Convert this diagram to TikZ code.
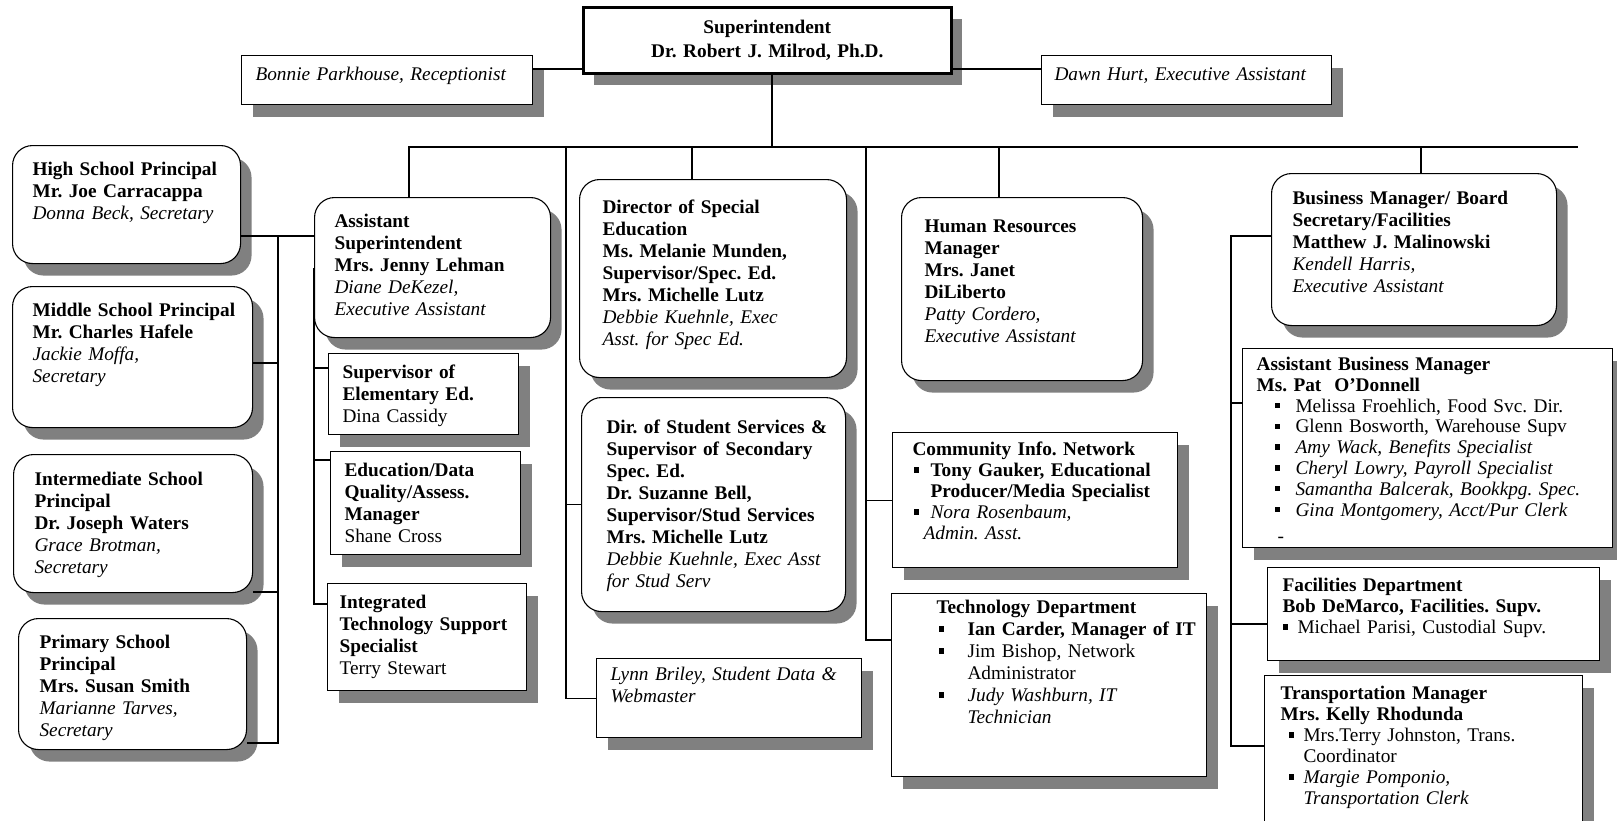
\documentclass[tikz,border=0pt]{standalone}
\usepackage{fontspec}
\setmainfont{Liberation Serif}
\usetikzlibrary{shadows}
\frenchspacing
\newcommand{\orgfont}{\fontsize{19.3pt}{22pt}\selectfont}
\newcommand{\tightfont}{\fontsize{19.3pt}{21pt}\selectfont}
\newcommand{\sqbul}{\rule[.2em]{.28em}{.28em}}
\newcommand{\itm}[2]{\hspace*{#1}\makebox[#2][l]{\sqbul}}
\tikzset{card/.style={draw,line width=1.1pt,fill=white,anchor=north west,align=left,inner xsep=0pt,inner ysep=0pt,font=\orgfont,drop shadow={shadow xshift=11pt,shadow yshift=-12pt,fill=black!50,opacity=1}},rbox/.style={card,rounded corners=20pt},sbox/.style={card},lpad/.style={execute at begin node={\leftskip=#1\relax}},link/.style={line width=1.1pt}}

\begin{document}
\begin{tikzpicture}[x=1pt,y=-1pt]
\useasboundingbox (0,0) rectangle (1617,820);
\clip (0,0) rectangle (1617,820);
\node[sbox,line width=2.6pt,align=center,text width=368pt,text height=26pt,text depth=40pt,font=\fontsize{19.3pt}{24pt}\selectfont\bfseries] (sup) at (582,6) {Superintendent\\Dr. Robert J. Milrod, Ph.D.};
\node[sbox,text width=291pt,text height=25pt,text depth=24pt,lpad=14pt] (recep) at (241,55) {\textit{Bonnie Parkhouse, Receptionist}};
\node[sbox,text width=290pt,text height=25pt,text depth=24pt,lpad=13pt] (execasst) at (1041,55) {\textit{Dawn Hurt, Executive Assistant}};
\node[rbox,text width=228pt,text height=30pt,text depth=88pt,lpad=20pt] (hs) at (12,145) {\textbf{High School Principal}\\\textbf{Mr. Joe Carracappa}\\\textit{Donna Beck, Secretary}};
\node[rbox,text width=240pt,text height=30pt,text depth=111pt,lpad=20pt] (ms) at (12,286) {\textbf{Middle School Principal}\\\textbf{Mr. Charles Hafele}\\\textit{Jackie Moffa,}\\\textit{Secretary}};
\node[rbox,text width=239pt,text height=31pt,text depth=107pt,lpad=21pt] (is) at (13,454) {\textbf{Intermediate School}\\\textbf{Principal}\\\textbf{Dr. Joseph Waters}\\\textit{Grace Brotman,}\\\textit{Secretary}};
\node[rbox,text width=228pt,text height=30pt,text depth=101pt,lpad=21pt] (ps) at (18,618) {\textbf{Primary School}\\\textbf{Principal}\\\textbf{Mrs. Susan Smith}\\\textit{Marianne Tarves,}\\\textit{Secretary}};
\node[rbox,text width=236pt,text height=30pt,text depth=110pt,lpad=20pt] (asup) at (314,197) {\textbf{Assistant}\\\textbf{Superintendent}\\\textbf{Mrs. Jenny Lehman}\\\textit{Diane DeKezel,}\\\textit{Executive Assistant}};
\node[sbox,text width=190pt,text height=25pt,text depth=56pt,lpad=14pt] (selem) at (328,353) {\textbf{Supervisor of}\\\textbf{Elementary Ed.}\\Dina Cassidy};
\node[sbox,text width=190pt,text height=25pt,text depth=78pt,lpad=14pt] (edudata) at (330,451) {\textbf{Education/Data}\\\textbf{Quality/Assess.}\\\textbf{Manager}\\Shane Cross};
\node[sbox,text width=199pt,text height=25pt,text depth=82pt,lpad=12pt] (its) at (327,583) {\textbf{Integrated}\\\textbf{Technology Support}\\\textbf{Specialist}\\Terry Stewart};
\node[rbox,text width=267pt,text height=34pt,text depth=164pt,lpad=23pt] (spedir) at (579,179) {\textbf{Director of Special}\\\textbf{Education}\\\textbf{Ms. Melanie Munden,}\\\textbf{Supervisor/Spec. Ed.}\\\textbf{Mrs. Michelle Lutz}\\\textit{Debbie Kuehnle, Exec}\\\textit{Asst. for Spec Ed.}};
\node[rbox,text width=264pt,text height=36pt,text depth=178pt,lpad=25pt] (studsvc) at (581,397) {\textbf{Dir. of Student Services \&}\\\textbf{Supervisor of Secondary}\\\textbf{Spec. Ed.}\\\textbf{Dr. Suzanne Bell,}\\\textbf{Supervisor/Stud Services}\\\textbf{Mrs. Michelle Lutz}\\\textit{Debbie Kuehnle, Exec Asst}\\\textit{for Stud Serv}};
\node[sbox,text width=265pt,text height=22pt,text depth=57pt,lpad=14pt] (webmaster) at (596,658) {\textit{Lynn Briley, Student Data \&}\\\textit{Webmaster}};
\node[rbox,text width=241pt,text height=35pt,text depth=148pt,lpad=23pt] (hr) at (901,197) {\textbf{Human Resources}\\\textbf{Manager}\\\textbf{Mrs. Janet}\\\textbf{DiLiberto}\\\textit{Patty Cordero,}\\\textit{Executive Assistant}};
\node[sbox,text width=285pt,text height=23pt,text depth=112pt,lpad=20pt,font=\tightfont] (cin) at (892,432) {\textbf{Community Info. Network}\\\itm{1pt}{17pt}\textbf{Tony Gauker, Educational}\\\hspace*{18pt}\textbf{Producer/Media Specialist}\\\itm{1pt}{17pt}\textit{Nora Rosenbaum,}\\\hspace*{11pt}\textit{Admin. Asst.}};
\node[sbox,text width=315pt,text height=20pt,text depth=163pt,lpad=45pt] (tech) at (891,593) {\textbf{Technology Department}\\\itm{2pt}{29pt}\textbf{Ian Carder, Manager of IT}\\\itm{2pt}{29pt}Jim Bishop, Network\\\hspace*{31pt}Administrator\\\itm{2pt}{29pt}\textit{Judy Washburn, IT}\\\hspace*{31pt}\textit{Technician}};
\node[rbox,text width=285pt,text height=31pt,text depth=121pt,lpad=21pt] (busmgr) at (1271,173) {\textbf{Business Manager/ Board}\\\textbf{Secretary/Facilities}\\\textbf{Matthew J. Malinowski}\\\textit{Kendell Harris,}\\\textit{Executive Assistant}};
\node[sbox,text width=370pt,text height=22pt,text depth=177pt,lpad=14pt,font=\fontsize{19.3pt}{20.8pt}\selectfont] (asstbus) at (1242,348) {\textbf{Assistant Business Manager}\\\textbf{Ms. Pat\ \ O'Donnell}\\\itm{18pt}{21pt}Melissa Froehlich, Food Svc. Dir.\\\itm{18pt}{21pt}Glenn Bosworth, Warehouse Supv\\\itm{18pt}{21pt}\textit{Amy Wack, Benefits Specialist}\\\itm{18pt}{21pt}\textit{Cheryl Lowry, Payroll Specialist}\\\itm{18pt}{21pt}\textit{Samantha Balcerak, Bookkpg. Spec.}\\\itm{18pt}{21pt}\textit{Gina Montgomery, Acct/Pur Clerk}\\[6pt]\hspace*{21pt}-};
\node[sbox,text width=332pt,text height=24pt,text depth=69pt,lpad=15pt,font=\tightfont] (facil) at (1267,567) {\textbf{Facilities Department}\\\textbf{Bob DeMarco, Facilities. Supv.}\\\itm{0pt}{15pt}Michael Parisi, Custodial Supv.};
\node[sbox,text width=318pt,text height=24pt,text depth=160pt,lpad=16pt,font=\tightfont] (transp) at (1264,675) {\textbf{Transportation Manager}\\\textbf{Mrs. Kelly Rhodunda}\\\itm{8pt}{15pt}Mrs.Terry Johnston, Trans.\\\hspace*{23pt}Coordinator\\\itm{8pt}{15pt}\textit{Margie Pomponio,}\\\hspace*{23pt}\textit{Transportation Clerk}};
\coordinate (hl) at (0,69);
\coordinate (d1) at (409,147); \coordinate (d2) at (566,147); \coordinate (d3) at (692,147); \coordinate (d4) at (772,147);
\coordinate (d5) at (866,147); \coordinate (d6) at (999,147); \coordinate (d7) at (1421,147); \coordinate (d8) at (1578,147);
\coordinate (l1) at (278,236); \coordinate (l2) at (278,743); \coordinate (l3) at (278,592); \coordinate (l4) at (278,363);
\coordinate (a1) at (314,368); \coordinate (a2) at (314,460); \coordinate (a3) at (314,604);
\coordinate (t1) at (866,640);
\coordinate (r1) at (1231,236); \coordinate (r2) at (1231,403); \coordinate (r3) at (1231,624); \coordinate (r4) at (1231,746);
\draw[link] (recep.east |- hl) -- (sup.west |- hl); \draw[link] (sup.east |- hl) -- (execasst.west |- hl);
\draw[link] (d4 |- sup.south) -- (d4);
\draw[link] (d1 |- asup.north) -- (d1) -- (d8);
\draw[link] (d3) -- (d3 |- spedir.north); \draw[link] (d6) -- (d6 |- hr.north); \draw[link] (d7) -- (d7 |- busmgr.north);
\draw[link] (hs.east |- l1) -- (asup.west |- l1); \draw[link] (l1) -- (l2) -- (l2 -| ps.east);
\draw[link] (l4) -- (l4 -| ms.east); \draw[link] (l3) -- (l3 -| is.east);
\draw[link] (asup.west) -- (a3) -- (a3 -| its.west); \draw[link] (a1) -- (a1 -| selem.west); \draw[link] (a2) -- (a2 -| edudata.west);
\draw[link] (d2) -- (d2 |- webmaster.west) -- (webmaster.west); \draw[link] (d2 |- studsvc.west) -- (studsvc.west);
\draw[link] (d5) -- (t1) -- (t1 -| tech.west); \draw[link] (d5 |- cin.west) -- (cin.west);
\draw[link] (busmgr.west |- r1) -- (r1) -- (r4) -- (r4 -| transp.west);
\draw[link] (r2) -- (r2 -| asstbus.west); \draw[link] (r3) -- (r3 -| facil.west);
\end{tikzpicture}
\end{document}
